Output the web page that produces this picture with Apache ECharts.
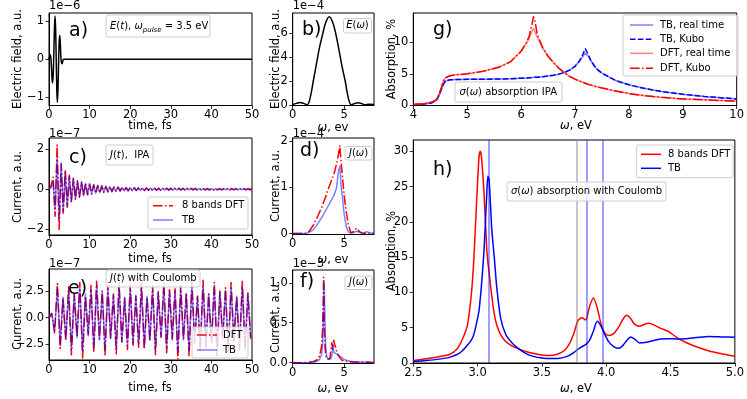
<!DOCTYPE html>
<html><head><meta charset="utf-8">
<script src="https://cdn.jsdelivr.net/npm/echarts@6.0.0/dist/echarts.min.js"></script>
<style>html,body{margin:0;padding:0;background:#fff}#c{width:747px;height:399px}</style>
</head><body><div id="c"></div>
<script>
// ---------- DATA ----------
// a) E(t)
const aTime = [0, 0.15, 0.3, 0.45, 0.6, 0.75, 0.89, 1.04, 1.19, 1.33, 1.48, 1.63, 1.78, 1.92, 2.07, 2.22, 2.37, 2.51, 2.66, 2.81, 2.96, 3.1, 3.25, 3.4, 3.6, 50];
const aField = [0, 0.08, 0.12, 0.05, -0.2, -0.5, -0.62, -0.4, 0.15, 0.75, 1.13, 0.8, 0.0, -0.8, -1.13, -0.75, -0.05, 0.45, 0.63, 0.35, 0.0, -0.1, -0.12, -0.04, 0, 0];
// b) E(omega)
const bOmega = [0, 0.35, 0.7, 1.05, 1.4, 1.7, 2.0, 2.3, 2.6, 2.9, 3.2, 3.55, 3.9, 4.2, 4.5, 4.8, 5.1, 5.4, 5.7, 6.0, 6.35, 6.7, 7.05, 7.4, 7.9];
const bField = [0.02, 0.12, 0.2, 0.12, 0.0, 0.6, 2.0, 3.4, 4.8, 5.9, 6.9, 7.4, 6.9, 5.9, 4.6, 3.2, 2.0, 0.6, 0.0, 0.1, 0.17, 0.1, 0.0, 0.04, 0.02];
// c) J(t) IPA, sampled every cStep fs
const cStep = 0.5;
const cDFT = [0, 0.15, 0.6, -1.35, 2.2, -2.0, 1.25, -1.2, 0.95, -0.9,
 0.7, -0.62, 0.55, -0.5, 0.42, -0.4, 0.36, -0.33, 0.3, -0.28,
 0.26, -0.24, 0.22, -0.2, 0.19, -0.18, 0.16, -0.15, 0.14, -0.13,
 0.13, -0.12, 0.11, -0.1, 0.1, -0.09, 0.09, -0.085, 0.08, -0.08,
 0.075, -0.07, 0.07, -0.065, 0.065, -0.06, 0.062, -0.06, 0.058, -0.055,
 0.055, -0.052, 0.05, -0.05, 0.05, -0.048, 0.047, -0.046, 0.045, -0.045,
 0.044, -0.043, 0.042, -0.042, 0.041, -0.04, 0.04, -0.04, 0.039, -0.038,
 0.038, -0.037, 0.037, -0.036, 0.036, -0.036, 0.035, -0.035, 0.035, -0.034,
 0.034, -0.034, 0.033, -0.033, 0.033, -0.032, 0.032, -0.032, 0.031, -0.031,
 0.031, -0.03, 0.03, -0.03, 0.03, -0.03, 0.029, -0.029, 0.029, -0.028, 0.028];
const cTB = [0, 0.1, 0.35, -1.0, 1.5, -1.5, 1.3, -1.1, 0.85, -0.85,
 0.65, -0.6, 0.52, -0.48, 0.4, -0.38, 0.34, -0.32, 0.28, -0.27,
 0.25, -0.23, 0.21, -0.2, 0.18, -0.17, 0.16, -0.15, 0.14, -0.13,
 0.12, -0.12, 0.11, -0.1, 0.1, -0.09, 0.09, -0.085, 0.08, -0.08,
 0.075, -0.072, 0.07, -0.066, 0.064, -0.062, 0.06, -0.058, 0.057, -0.056,
 0.054, -0.052, 0.051, -0.05, 0.049, -0.048, 0.047, -0.046, 0.045, -0.044,
 0.044, -0.043, 0.042, -0.041, 0.041, -0.04, 0.04, -0.039, 0.039, -0.038,
 0.038, -0.037, 0.037, -0.036, 0.036, -0.035, 0.035, -0.035, 0.034, -0.034,
 0.034, -0.033, 0.033, -0.033, 0.032, -0.032, 0.032, -0.031, 0.031, -0.031,
 0.03, -0.03, 0.03, -0.03, 0.029, -0.029, 0.029, -0.028, 0.028, -0.028, 0.028];
// d) J(omega) IPA
const dOmega = [0, 0.5, 1.0, 1.33, 1.6, 2.0, 2.4, 2.8, 3.2, 3.6, 4.0, 4.25, 4.45, 4.58, 4.7, 4.85, 5.0, 5.2, 5.4, 5.65, 5.9, 6.2, 6.5, 6.8, 7.2, 7.6, 7.9];
const dDFT = [0, 0, 0, 0.01, 0.05, 0.18, 0.36, 0.56, 0.8, 1.05, 1.28, 1.5, 1.72, 1.91, 1.55, 1.2, 0.82, 0.48, 0.2, 0.02, 0.04, 0.12, 0.04, 0, 0.01, 0, 0];
const dTB = [0, 0, 0, 0, 0.03, 0.08, 0.2, 0.34, 0.5, 0.66, 0.82, 0.98, 1.35, 1.46, 1.05, 0.75, 0.42, 0.15, 0.04, 0.01, 0.02, 0.05, 0.03, 0.01, 0.04, 0.01, 0];
// e) J(t) with Coulomb, sampled every eStep fs
const eStep = 0.69;
const eDFT = [0, 0.4, -1.5, 3.2, -2.9, 1.8, -2.2, 2.9, -3.5, 2.2,
 -1.8, 3.3, -3.8, 2.0, -1.6, 3.0, -3.3, 3.4, -2.0, 2.5,
 -3.6, 3.0, -1.9, 2.2, -3.4, 3.3, -2.3, 1.8, -3.0, 3.1,
 -2.6, 2.0, -2.8, 3.2, -3.0, 1.9, -2.2, 3.0, -3.5, 2.4,
 -1.8, 3.3, -3.3, 2.6, -2.0, 2.7, -3.9, 3.0, -2.0, 2.3,
 -3.7, 3.4, -2.4, 2.0, -3.2, 3.5, -2.8, 2.2, -2.5, 3.3,
 -3.6, 2.5, -2.0, 2.8, -3.4, 3.3, -2.2, 2.0, -3.0, 3.4,
 -3.1, 2.3, -2.0];
const eTB = [0, 0.3, -1.2, 2.7, -2.5, 1.9, -2.0, 2.5, -3.0, 2.3,
 -1.9, 2.8, -3.2, 2.2, -1.7, 2.6, -2.9, 3.0, -2.1, 2.4,
 -3.0, 2.7, -2.0, 2.1, -2.9, 2.9, -2.3, 1.9, -2.6, 2.7,
 -2.5, 2.1, -2.5, 2.8, -2.7, 2.0, -2.1, 2.6, -3.0, 2.4,
 -1.9, 2.8, -2.9, 2.5, -2.1, 2.5, -3.2, 2.7, -2.1, 2.2,
 -3.1, 2.9, -2.3, 2.0, -2.7, 3.0, -2.6, 2.2, -2.3, 2.8,
 -3.0, 2.4, -2.0, 2.5, -2.9, 2.8, -2.2, 2.0, -2.7, 2.9,
 -2.8, 2.2, -1.9];
// f) J(omega) with Coulomb
const fOmega = [0, 0.5, 1.0, 1.5, 2.0, 2.3, 2.6, 2.8, 2.9, 2.96, 3.0, 3.03, 3.06, 3.1, 3.15, 3.2, 3.3, 3.45, 3.6, 3.7, 3.8, 3.85, 3.9, 3.95, 4.0, 4.05, 4.15, 4.25, 4.4, 4.6, 4.8, 5.0, 5.5, 6.0, 6.5, 7.0, 7.5, 7.9];
const fDFT = [0, 0, 0, 0.005, 0.015, 0.03, 0.08, 0.2, 0.4, 0.75, 1.07, 0.95, 0.6, 0.35, 0.18, 0.1, 0.05, 0.03, 0.05, 0.14, 0.25, 0.2, 0.17, 0.24, 0.28, 0.24, 0.2, 0.15, 0.1, 0.06, 0.03, 0.02, 0.01, 0.01, 0.005, 0.01, 0.005, 0];
const fTB = [0, 0, 0, 0, 0.005, 0.015, 0.04, 0.1, 0.2, 0.4, 0.7, 0.9, 1.0, 0.8, 0.45, 0.22, 0.08, 0.04, 0.03, 0.05, 0.09, 0.14, 0.22, 0.18, 0.13, 0.11, 0.13, 0.11, 0.1, 0.08, 0.06, 0.04, 0.02, 0.01, 0.01, 0.005, 0.005, 0];
// g) sigma(omega) absorption IPA
const gOmega = [4.0, 4.2, 4.35, 4.43, 4.48, 4.52, 4.56, 4.6, 4.68, 4.8, 5.0, 5.3, 5.6, 5.8, 6.0, 6.1, 6.15, 6.2, 6.23, 6.26, 6.3, 6.4, 6.5, 6.6, 6.7, 6.8, 6.9, 7.0, 7.08, 7.14, 7.19, 7.24, 7.3, 7.4, 7.5, 7.75, 8.0, 8.3, 8.6, 9.0, 9.4, 9.7, 10.0];
const gTBReal = [0.08, 0.18, 0.4, 0.8, 1.6, 2.5, 3.4, 3.85, 4.05, 4.1, 4.12, 4.14, 4.18, 4.22, 4.3, 4.35, 4.38, 4.4, 4.42, 4.45, 4.47, 4.55, 4.65, 4.78, 4.95, 5.2, 5.6, 6.2, 7.0, 7.7, 8.3, 7.9, 7.0, 5.8, 5.1, 3.95, 3.25, 2.65, 2.2, 1.75, 1.4, 1.2, 1.0];
const gTBKubo = [0.08, 0.18, 0.4, 0.8, 1.6, 2.5, 3.4, 3.85, 4.05, 4.1, 4.12, 4.14, 4.18, 4.22, 4.3, 4.35, 4.38, 4.4, 4.42, 4.45, 4.47, 4.55, 4.65, 4.78, 4.95, 5.2, 5.6, 6.2, 7.0, 8.0, 9.0, 8.2, 7.0, 5.8, 5.1, 3.95, 3.25, 2.65, 2.2, 1.75, 1.4, 1.2, 1.0];
const gDFTReal = [0.12, 0.25, 0.5, 0.9, 1.8, 2.8, 3.9, 4.4, 4.7, 4.85, 5.0, 5.4, 6.1, 6.9, 8.6, 9.9, 10.7, 11.8, 12.2, 12.0, 10.9, 9.1, 7.8, 6.8, 5.9, 5.2, 4.6, 4.15, 3.85, 3.65, 3.5, 3.35, 3.2, 2.95, 2.75, 2.25, 1.85, 1.5, 1.25, 1.0, 0.85, 0.75, 0.65];
const gDFTKubo = [0.12, 0.25, 0.5, 0.9, 1.8, 2.8, 3.9, 4.4, 4.7, 4.85, 5.0, 5.4, 6.1, 6.9, 8.6, 10.0, 11.0, 12.8, 14.1, 13.3, 11.3, 9.2, 7.8, 6.8, 5.9, 5.2, 4.6, 4.15, 3.85, 3.65, 3.5, 3.35, 3.2, 2.95, 2.75, 2.25, 1.85, 1.5, 1.25, 1.0, 0.85, 0.75, 0.65];
// h) sigma(omega) absorption with Coulomb
const hOmega = [2.5, 2.6, 2.7, 2.78, 2.84, 2.88, 2.92, 2.95, 2.97, 2.99, 3.01, 3.02, 3.03, 3.05, 3.07, 3.08, 3.09, 3.11, 3.13, 3.15, 3.18, 3.22, 3.27, 3.32, 3.38, 3.44, 3.5, 3.56, 3.62, 3.67, 3.71, 3.75, 3.78, 3.81, 3.84, 3.87, 3.9, 3.93, 3.96, 3.99, 4.02, 4.06, 4.1, 4.13, 4.16, 4.19, 4.22, 4.26, 4.3, 4.33, 4.37, 4.42, 4.48, 4.55, 4.62, 4.7, 4.8, 4.9, 5.0];
const hDFT = [0.35, 0.6, 0.9, 1.2, 2.0, 3.3, 5.3, 9.5, 14.5, 22, 29, 30, 29.2, 24, 16.5, 14.3, 12.7, 9.5, 6.9, 5.3, 4.0, 3.0, 2.4, 2.0, 1.6, 1.35, 1.15, 1.05, 1.25, 1.7, 2.6, 4.3, 6.0, 6.4, 6.1, 8.0, 9.2, 7.8, 5.5, 4.2, 3.9, 4.2, 5.2, 6.2, 6.75, 6.3, 5.5, 5.2, 5.5, 5.65, 5.4, 4.95, 4.5, 3.6, 2.9, 2.3, 1.7, 1.3, 0.95];
const hTB = [0.2, 0.35, 0.55, 0.8, 1.2, 1.7, 2.5, 3.2, 4.0, 5.5, 7.3, 9.0, 11, 16, 23.5, 26.5, 25.8, 19, 14.9, 10.5, 6.3, 4.0, 2.8, 2.0, 1.3, 0.9, 0.7, 0.62, 0.65, 0.8, 1.05, 1.5, 1.95, 2.3, 2.6, 3.2, 4.5, 5.9, 5.2, 4.0, 3.0, 2.3, 2.1, 2.5, 3.2, 3.7, 3.4, 2.85, 2.9, 3.0, 3.2, 3.4, 3.45, 3.4, 3.45, 3.6, 3.75, 3.7, 3.65];
const hLines = [3.088, 3.772, 3.851, 3.969];
// tick labels
const tTicks = [0, 10, 20, 30, 40, 50];
const wTicks = [0, 5];
const aTicks = [-1, 0, 1];
const bTicks = [0, 2, 4, 6];
const cTicks = [-2, 0, 2];
const dTicks = [0, 1, 2];
const eTicks = [-2.5, 0, 2.5];
const fTicks = [0, 0.5, 1.0];
const gxTicks = [4, 5, 6, 7, 8, 9, 10];
const gyTicks = [0, 5, 10];
const hxTicks = [2.5, 3.0, 3.5, 4.0, 4.5, 5.0];
const hyTicks = [0, 5, 10, 15, 20, 25, 30];

// ---------- BUILD ----------
const FONT = 'DejaVu Sans';
const TS = 11.5;
const pairs = (xs, ys) => xs.map((x, i) => [x, ys[i]]);
const stepped = (ys, dt) => ys.map((y, i) => [i * dt, y]);
const mfmt = v => String(v).replace('-', '\u2212');
const f1 = v => (v < 0 ? '\u2212' : '') + Math.abs(v).toFixed(1);

const grid = [
  {left: 49, top: 13, width: 203, height: 92.5},     // 0 a
  {left: 292.7, top: 13, width: 81.3, height: 92.5}, // 1 b
  {left: 413.3, top: 13, width: 325.7, height: 92.5},// 2 g
  {left: 49, top: 138, width: 203, height: 97},      // 3 c
  {left: 292.7, top: 138, width: 81.3, height: 96.5},// 4 d
  {left: 49, top: 269, width: 203, height: 91},      // 5 e
  {left: 292.7, top: 270, width: 81.3, height: 93.5},// 6 f
  {left: 413.3, top: 140, width: 325.7, height: 223} // 7 h
].map(g => Object.assign({show: true, borderColor: '#000', borderWidth: 1, backgroundColor: 'transparent', containLabel: false}, g));

function ax(gi, min, max, ticks, fmt, isY) {
  return {
    type: 'value', gridIndex: gi, min, max, scale: true,
    axisLine: {show: true, onZero: false, lineStyle: {color: '#000', width: 1}},
    axisTick: {show: true, inside: false, length: 3.5, customValues: ticks, lineStyle: {color: '#000', width: 0.8}},
    axisLabel: {show: true, customValues: ticks, formatter: fmt || mfmt, color: '#000', fontFamily: FONT, fontSize: TS, margin: isY ? 5 : 4, hideOverlap: false},
    splitLine: {show: false}
  };
}
const xAxis = [
  ax(0, 0, 50, tTicks), ax(1, 0, 7.9, wTicks), ax(2, 4, 10, gxTicks),
  ax(3, 0, 50, tTicks), ax(4, 0, 7.9, wTicks), ax(5, 0, 50, tTicks),
  ax(6, 0, 7.9, wTicks), ax(7, 2.5, 5.0, hxTicks, f1)
];
const yAxis = [
  ax(0, -1.21, 1.21, aTicks, null, true), ax(1, -0.06, 7.72, bTicks, null, true),
  ax(2, -0.05, 14.7, gyTicks, null, true), ax(3, -2.28, 2.55, cTicks, null, true),
  ax(4, -0.02, 2.07, dTicks, null, true), ax(5, -3.99, 4.56, eTicks, f1, true),
  ax(6, -0.01, 1.16, fTicks, f1, true), ax(7, 0, 31.6, hyTicks, null, true)
];

const LW = 1.5;
const DASHDOT = [9.6, 2.4, 1.5, 2.4];
const DASHED = [5.5, 2.4];
const RED = '#ff0000', BLUE = '#0000ff';
function ln(gi, data, color, o = {}) {
  const s = {
    type: 'line', xAxisIndex: gi, yAxisIndex: gi, data, showSymbol: false, symbol: 'none',
    silent: true, animation: false, smooth: o.smooth || false, clip: true,
    lineStyle: {color, width: o.w || LW, type: o.dash || 'solid', opacity: o.op == null ? 1 : o.op, join: 'round', cap: 'butt'},
    z: o.z || 2
  };
  if (o.markLine) s.markLine = o.markLine;
  return s;
}
const series = [
  ln(0, pairs(aTime, aField), '#000', {smooth: 0.3}),
  ln(1, pairs(bOmega, bField), '#000', {smooth: 0.4}),
  ln(2, pairs(gOmega, gTBReal), BLUE, {op: 0.5}),
  ln(2, pairs(gOmega, gTBKubo), BLUE, {dash: DASHED}),
  ln(2, pairs(gOmega, gDFTReal), RED, {op: 0.5}),
  ln(2, pairs(gOmega, gDFTKubo), RED, {dash: DASHDOT}),
  ln(3, stepped(cDFT, cStep), RED, {dash: DASHDOT}),
  ln(3, stepped(cTB, cStep), BLUE, {op: 0.5, z: 3}),
  ln(4, pairs(dOmega, dDFT), RED, {dash: DASHDOT}),
  ln(4, pairs(dOmega, dTB), BLUE, {op: 0.5, z: 3}),
  ln(5, stepped(eDFT, eStep), RED, {dash: DASHDOT}),
  ln(5, stepped(eTB, eStep), BLUE, {op: 0.5, z: 3}),
  ln(6, pairs(fOmega, fDFT), RED, {dash: DASHDOT}),
  ln(6, pairs(fOmega, fTB), BLUE, {op: 0.5, z: 3}),
  ln(7, pairs(hOmega, hDFT), RED, {smooth: 0.25, z: 3, markLine: {
    silent: true, symbol: ['none', 'none'], animation: false, label: {show: false},
    lineStyle: {type: 'solid', width: 1.5},
    data: hLines.map((v, i) => ({xAxis: v, lineStyle: {color: i === 1 ? 'rgba(128,128,128,0.6)' : 'rgba(0,0,255,0.5)', type: 'solid', width: 1.5}}))
  }}),
  ln(7, pairs(hOmega, hTB), BLUE, {smooth: 0.25, z: 4})
];

// ---------- TEXT / ANNOTATIONS ----------
const G = [];
const rich = s => ({
  i: {fontStyle: 'italic', fontFamily: FONT, fontSize: s, fill: '#000'},
  s: {fontStyle: 'italic', fontFamily: FONT, fontSize: s * 0.7, fill: '#000', verticalAlign: 'bottom', lineHeight: s * 1.5}
});
function txt(x, y, text, o = {}) {
  const size = o.size || TS;
  G.push({type: 'text', x, y, z: 120, rotation: o.rot || 0, silent: true,
    style: {text, fill: '#000', fontFamily: FONT, fontSize: size,
      textAlign: o.align || 'left', align: o.align || 'left',
      textVerticalAlign: 'middle', verticalAlign: 'middle', rich: rich(size)}});
}
function box(x, y, w, h) {
  G.push({type: 'rect', z: 110, silent: true, shape: {x, y, width: w, height: h, r: 2},
    style: {fill: 'rgba(255,255,255,0.8)', stroke: '#cccccc', lineWidth: 1}});
}
function seg(x1, x2, y, color, dash, op) {
  G.push({type: 'line', z: 115, silent: true, shape: {x1, y1: y, x2, y2: y},
    style: {stroke: color, lineWidth: LW, lineDash: dash || null, opacity: op == null ? 1 : op}});
}
// panel letters
[['a)', 69, 31], ['b)', 302, 30], ['g)', 433, 30], ['c)', 69, 158], ['d)', 300, 151], ['e)', 68, 289], ['f)', 300, 282], ['h)', 433, 170]]
  .forEach(p => txt(p[1], p[2], p[0], {size: 19}));
// offset texts
[['1e\u22126', 49, 6], ['1e\u22124', 292.7, 6], ['1e\u22127', 49, 134], ['1e\u22124', 292.7, 134], ['1e\u22127', 49, 264], ['1e\u22123', 292.7, 264]]
  .forEach(p => txt(p[1], p[2], p[0]));
// axis titles
[['Electric field, a.u.', 18, 59], ['Electric field, a.u.', 276, 59], ['Absorption, %', 392, 59],
 ['Current, a.u.', 18, 187], ['Current, a.u.', 276, 186], ['Current, a.u.', 18, 314], ['Current, a.u.', 276, 317],
 ['Absorption, %', 392, 251]].forEach(p => txt(p[1], p[2], p[0], {rot: Math.PI / 2, align: 'center'}));
[['time, fs', 150, 126], ['{i|ω}, ev', 333, 128], ['{i|ω}, eV', 576, 126], ['time, fs', 150, 259], ['{i|ω}, ev', 333, 260],
 ['time, fs', 150, 388], ['{i|ω}, ev', 333, 389], ['{i|ω}, eV', 576, 389]].forEach(p => txt(p[1], p[2], p[0], {align: 'center'}));
// annotation boxes
box(106, 15, 104, 22); txt(110, 26, '{i|E}({i|t}), {i|ω}{s|pulse} = 3.5 eV', {size: 10});
box(343.5, 18.5, 28, 14.5); txt(357.5, 25.8, '{i|E}({i|ω})', {size: 10, align: 'center'});
box(455, 82, 107, 20); txt(459.5, 92, '{i|σ}({i|ω}) absorption IPA', {size: 10});
box(106, 145, 47, 20); txt(110, 155, '{i|J}({i|t}),  IPA', {size: 10});
box(345, 146.5, 27, 13.5); txt(358.5, 153.2, '{i|J}({i|ω})', {size: 10, align: 'center'});
box(106, 270, 94, 17); txt(110, 278.5, '{i|J}({i|t}) with Coulomb', {size: 10});
box(345, 276, 27, 13.5); txt(358.5, 282.7, '{i|J}({i|ω})', {size: 10, align: 'center'});
box(507, 182, 159, 19); txt(511, 191.5, '{i|σ}({i|ω}) absorption with Coulomb', {size: 10});
// legends
box(148, 197, 100, 32);
seg(153, 173, 205.7, RED, DASHDOT); txt(182, 205.7, '8 bands DFT', {size: 10});
seg(153, 173, 220, BLUE, null, 0.5); txt(182, 220, 'TB', {size: 10});
box(192, 327, 56, 31);
seg(197, 217, 335, RED, DASHDOT); txt(223, 335, 'DFT', {size: 10});
seg(197, 217, 350, BLUE, null, 0.5); txt(223, 350, 'TB', {size: 10});
box(623, 15, 115, 61);
seg(630, 653, 25, BLUE, null, 0.5); txt(660, 25, 'TB, real time', {size: 10});
seg(630, 653, 39.3, BLUE, DASHED); txt(660, 39.3, 'TB, Kubo', {size: 10});
seg(630, 653, 53.3, RED, null, 0.5); txt(660, 53.3, 'DFT, real time', {size: 10});
seg(630, 653, 68.3, RED, DASHDOT); txt(660, 68.3, 'DFT, Kubo', {size: 10});
box(636.7, 145, 96.3, 32.7);
seg(641, 661, 154.3, RED); txt(668, 154.3, '8 bands DFT', {size: 10});
seg(641, 661, 168.3, BLUE); txt(668, 168.3, 'TB', {size: 10});

const chart = echarts.init(document.getElementById('c'), null, {renderer: 'canvas', width: 747, height: 399});
chart.setOption({
  animation: false,
  backgroundColor: '#fff',
  textStyle: {fontFamily: FONT},
  grid, xAxis, yAxis, series,
  graphic: {elements: G}
});
</script></body></html>
